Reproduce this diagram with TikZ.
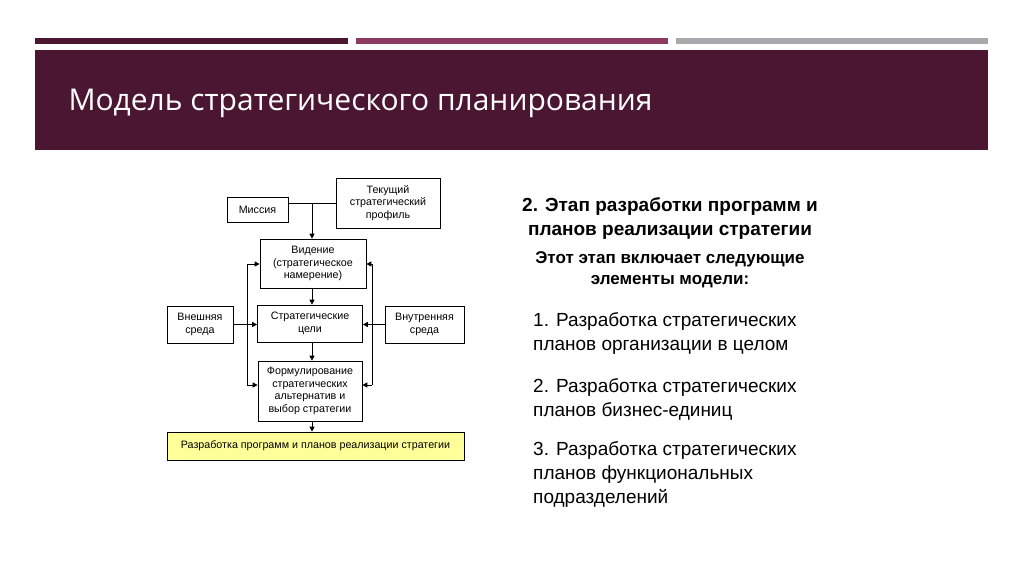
\documentclass[tikz,border=0pt]{standalone}
\usepackage{fontspec}
\setmainfont{Liberation Sans}
\newfontfamily\titlefont{Open Sans}
\usetikzlibrary{arrows.meta}
\definecolor{maroon}{HTML}{4B1631}
\definecolor{berry}{HTML}{8C3A62}
\definecolor{barGray}{HTML}{A8AAAD}
\definecolor{paleYellow}{HTML}{FFFF99}
\tikzset{
  blk/.style={draw, line width=0.7pt, align=center, font=\fontsize{10.7}{12.5}\selectfont, inner sep=1pt},
  arr/.style={-{Triangle[length=5pt,width=5pt]}, line width=0.9pt},
  ln/.style={line width=0.9pt},
  txt/.style={align=left, anchor=north west, font=\fontsize{19}{24}\selectfont, inner sep=0pt}
}
\begin{document}
\begin{tikzpicture}[x=1pt,y=-1pt]
\useasboundingbox (0,0) rectangle (1024,574);
\fill[white] (0,0) rectangle (1024,574);
% header
\fill[maroon] (35,38) rectangle (348,44);
\fill[berry] (356,38) rectangle (668,44);
\fill[barGray] (676,38) rectangle (988,44);
\fill[maroon] (35,50) rectangle (988,150);
\node(title) at (65,103) [anchor=west, text=white, font=\titlefont\fontsize{30}{33}\selectfont]{Модель стратегического планирования};

% diagram
\node(mis) at (257.5,209.5) [blk, minimum width=61pt, minimum height=25pt]{Миссия};
\node(prof) at (388,203) [blk, minimum width=104pt, minimum height=50pt]{Текущий\\стратегический\\профиль};
\node(vis) at (313,263.5) [blk, minimum width=106pt, minimum height=49pt]{Видение\\(стратегическое\\намерение)};
\node(goal) at (310,323.5) [blk, minimum width=105pt, minimum height=37pt]{Стратегические\\цели};
\node(form) at (310,391) [blk, minimum width=104pt, minimum height=60pt]{Формулирование\\стратегических\\альтернатив и\\выбор стратегии};
\node(ext) at (200,324.5) [blk, minimum width=66pt, minimum height=37pt]{Внешняя\\среда};
\node(int) at (424.5,324.5) [blk, minimum width=79pt, minimum height=37pt]{Внутренняя\\среда};
\node(plan) at (315.5,446) [blk, fill=paleYellow, minimum width=297pt, minimum height=28pt]{Разработка программ и планов реализации стратегии};

\coordinate(top) at (312,203);
\coordinate(lbus) at (247,324.5);
\coordinate(rbus) at (372,324.5);
\draw[ln] (mis.east |- top) -- (prof.west |- top);
\draw[arr] (top) -- (vis.north -| top);
\draw[arr] (vis.south -| top) -- (goal.north -| top);
\draw[arr] (goal.south -| top) -- (form.north -| top);
\draw[arr] (form.south -| top) -- (plan.north -| top);
\draw[arr] (ext.east) -- (goal.west |- ext.east);
\draw[arr] (int.west) -- (goal.east |- int.west);
\draw[ln] (lbus |- 0,264) -- (lbus |- 0,385);
\draw[ln] (rbus |- 0,264) -- (rbus |- 0,385);
\draw[arr] (lbus |- 0,264) -- (vis.west |- 0,264);
\draw[arr] (lbus |- 0,385) -- (form.west |- 0,385);
\draw[arr] (rbus |- 0,264) -- (vis.east |- 0,264);
\draw[arr] (rbus |- 0,385) -- (form.east |- 0,385);

% right text
\node(stage) at (670,218) [align=center, font=\bfseries\fontsize{19}{24}\selectfont]{2. Этап разработки программ и\\планов реализации стратегии};
\node(intro) at (670,270) [align=center, font=\bfseries\fontsize{17}{21}\selectfont]{Этот этап включает следующие\\элементы модели:};
\node(item1) at (533,312) [txt]{1. Разработка стратегических\\планов организации в целом};
\node(item2) at (533,378) [txt]{2. Разработка стратегических\\планов бизнес-единиц};
\node(item3) at (533,441) [txt]{3. Разработка стратегических\\планов функциональных\\подразделений};
\end{tikzpicture}
\end{document}
